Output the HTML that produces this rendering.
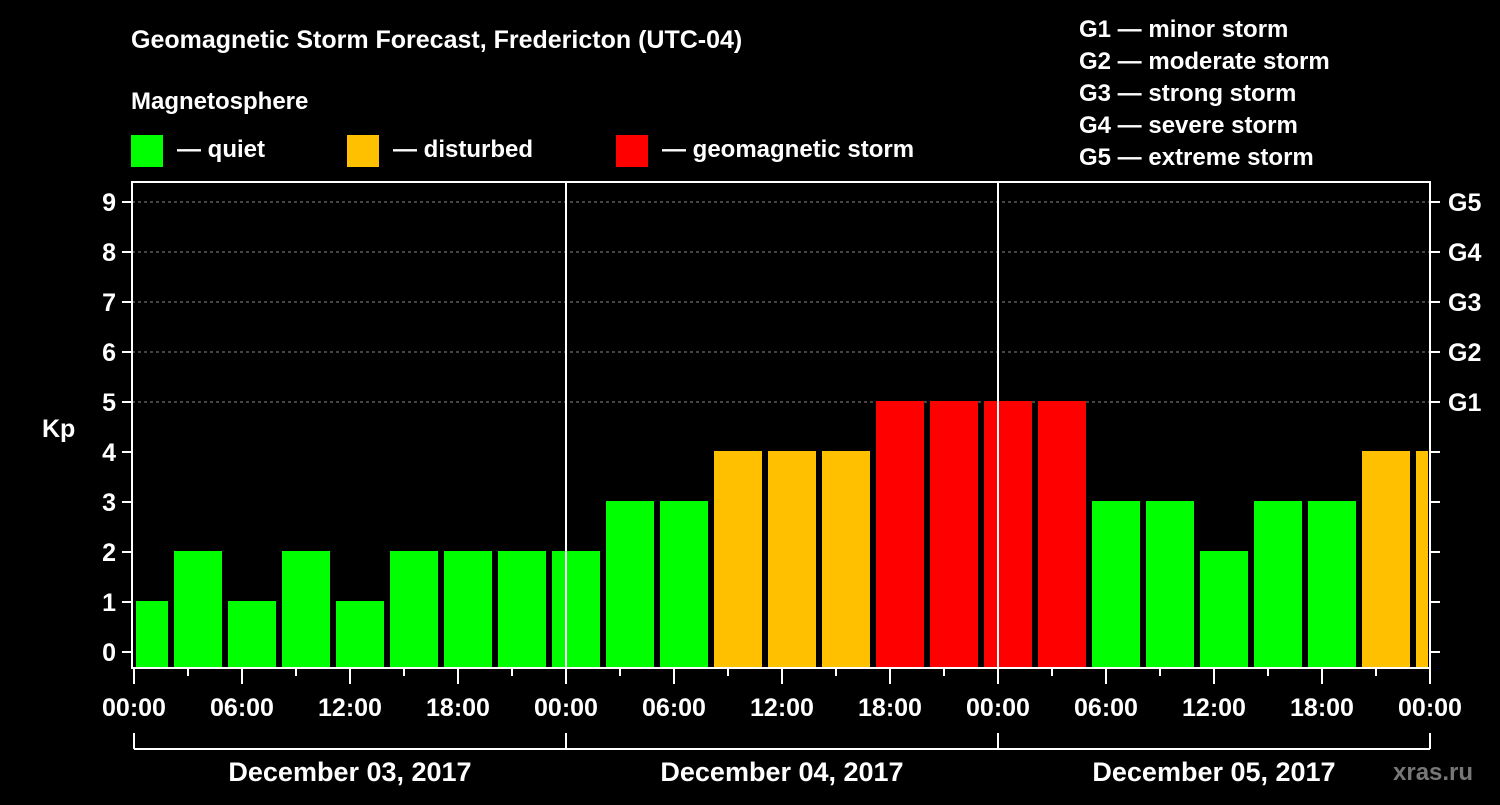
<!DOCTYPE html>
<html><head><meta charset="utf-8"><style>
body{margin:0;background:#000;width:1500px;height:800px;overflow:hidden}
svg text{font-family:"Liberation Sans",Arial,sans-serif;font-weight:bold;fill:#fff}
</style></head><body>
<svg id="c" width="1500" height="800" xmlns="http://www.w3.org/2000/svg">
<text x="131" y="48" font-size="25">Geomagnetic Storm Forecast, Fredericton (UTC-04)</text>
<text x="131" y="109" font-size="24">Magnetosphere</text>
<rect x="131" y="135" width="32" height="32" fill="#00ff00"/>
<text x="177" y="157" font-size="24">— quiet</text>
<rect x="347" y="135" width="32" height="32" fill="#ffc000"/>
<text x="393" y="157" font-size="24">— disturbed</text>
<rect x="616" y="135" width="32" height="32" fill="#ff0000"/>
<text x="662" y="157" font-size="24">— geomagnetic storm</text>
<g font-size="24">
<text x="1079" y="37">G1 — minor storm</text>
<text x="1079" y="69">G2 — moderate storm</text>
<text x="1079" y="101">G3 — strong storm</text>
<text x="1079" y="133">G4 — severe storm</text>
<text x="1079" y="165">G5 — extreme storm</text>
</g>
<text x="42" y="437" font-size="25">Kp</text>
<text x="1393" y="780" font-size="24" style="fill:#777">xras.ru</text>
<g id="grid"></g><g id="bars"></g><g id="axes"></g>
</svg>
<script>
const kpValues=[1,2,1,2,1,2,2,2,2,3,3,4,4,4,5,5,5,5,3,3,2,3,3,4,4];
const yTicks=[0,1,2,3,4,5,6,7,8,9];
const gLabels=["G1","G2","G3","G4","G5"];
const xLabels=["00:00","06:00","12:00","18:00","00:00","06:00","12:00","18:00","00:00","06:00","12:00","18:00","00:00"];
const dayLabels=["December 03, 2017","December 04, 2017","December 05, 2017"];
const firstSlotHours=2, totalHours=72;
const L=132,R=1430,T=182,B=668;
const x=h=>134+h*(R-134)/totalHours;
const y=v=>652-v*50;
const NS="http://www.w3.org/2000/svg";
function mk(p,t,a){const e=document.createElementNS(NS,t);for(const k in a)e.setAttribute(k,a[k]);document.getElementById(p).appendChild(e);return e;}
// grid
for(let v=5;v<=9;v++){const l=mk('grid','line',{x1:L,x2:R,y1:y(v),y2:y(v),stroke:'#888','stroke-dasharray':'3,3','stroke-width':1});

}
// bars
kpValues.forEach((v,i)=>{
 let h0=i==0?0:firstSlotHours+(i-1)*3, h1=Math.min(firstSlotHours+i*3,totalHours);
 let x0=i==0?x(0)+2:x(h0)+4, x1=x(h1)-2;
 const col=v>=5?'#ff0000':v>=4?'#ffc000':'#00ff00';
 const r=mk('bars','rect',{x:x0,y:y(v)-1,width:x1-x0,height:B-y(v)+1,fill:col});
 
 
});
// axes frame
const f=mk('axes','rect',{x:L,y:T,width:R-L,height:B-T,fill:'none',stroke:'#fff','stroke-width':2});


[1,2].forEach(d=>{const l=mk('axes','line',{x1:x(d*24),x2:x(d*24),y1:T,y2:B,stroke:'#fff','stroke-width':2});

});
yTicks.forEach(v=>{
 mk('axes','line',{x1:122,x2:L,y1:y(v),y2:y(v),stroke:'#fff','stroke-width':2});
 mk('axes','line',{x1:R,x2:1440,y1:y(v),y2:y(v),stroke:'#fff','stroke-width':2});
 const t=mk('axes','text',{x:116,y:y(v)+9,'text-anchor':'end','font-size':25});t.textContent=v;
 
 
});
gLabels.forEach((g,i)=>{const t=mk('axes','text',{x:1448,y:y(5+i)+9,'font-size':25});t.textContent=g;
 
 });
for(let h=0;h<=totalHours;h+=3){mk('axes','line',{x1:x(h),x2:x(h),y1:B,y2:B+(h%6==0?16:8),stroke:'#fff','stroke-width':2});}
xLabels.forEach((s,i)=>{const t=mk('axes','text',{x:x(i*6),y:716,'text-anchor':'middle','font-size':25});t.textContent=s;
 
 });
mk('axes','line',{x1:x(0),x2:x(72),y1:749,y2:749,stroke:'#fff','stroke-width':2});
for(let d=0;d<=3;d++)mk('axes','line',{x1:x(d*24),x2:x(d*24),y1:733,y2:749,stroke:'#fff','stroke-width':2});
dayLabels.forEach((s,i)=>{const t=mk('axes','text',{x:x(i*24+12),y:781,'text-anchor':'middle','font-size':27});t.textContent=s;
 
 });
</script>
</body></html>
